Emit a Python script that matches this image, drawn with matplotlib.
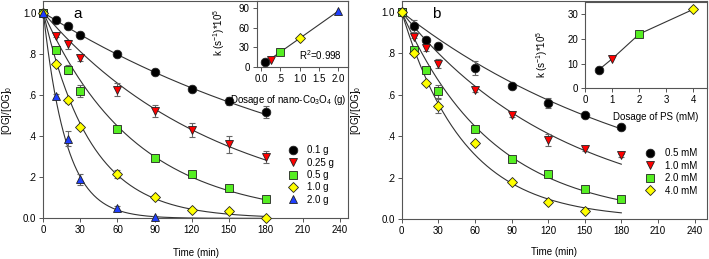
import numpy as np
import matplotlib
matplotlib.use("Agg")
import matplotlib.pyplot as plt
from matplotlib.ticker import FixedLocator, FixedFormatter

plt.rcParams['font.family'] = ['Liberation Sans', 'DejaVu Sans']
plt.rcParams['font.size'] = 7
plt.rcParams['mathtext.fontset'] = 'custom'
plt.rcParams['mathtext.rm'] = 'Liberation Sans'
plt.rcParams['mathtext.it'] = 'Liberation Sans'

# ---------------- data: panel a ----------------
time = [0, 10, 20, 30, 60, 90, 120, 150, 180]
labels_a = ["0.1 g", "0.25 g", "0.5 g", "1.0 g", "2.0 g"]
a_01 = [1.0, 0.966, 0.933, 0.891, 0.797, 0.712, 0.629, 0.569, 0.518]
a_025 = [1.0, 0.888, 0.845, 0.778, 0.626, 0.521, 0.429, 0.359, 0.299]
a_05 = [1.0, 0.817, 0.723, 0.618, 0.435, 0.291, 0.217, 0.149, 0.094]
a_10 = [1.0, 0.749, 0.573, 0.445, 0.217, 0.102, 0.042, 0.034, 0.002]
a_20 = [1.0, 0.595, 0.388, 0.189, 0.050, 0.008]
err_01 = [0.0, 0.010, 0.015, 0.015, 0.010, 0.010, 0.010, 0.020, 0.030]
err_025 = [0.0, 0.008, 0.020, 0.012, 0.030, 0.030, 0.035, 0.040, 0.030]
err_05 = [0.0, 0.008, 0.020, 0.030, 0.010, 0.008, 0.008, 0.008, 0.008]
err_10 = [0.0, 0.008, 0.010, 0.010, 0.020, 0.008, 0.008, 0.008, 0.005]
err_20 = [0.0, 0.008, 0.035, 0.025, 0.008, 0.005]
# first-order rate constants of the fitted curves (1/min)
fit_k_a = [0.0038, 0.00701, 0.01338, 0.026, 0.0536]
# inset a
dose_co = [0.1, 0.25, 0.5, 1.0, 2.0]
k_co = [7, 11, 22, 44, 86]

# ---------------- data: panel b ----------------
labels_b = ["0.5 mM", "1.0 mM", "2.0 mM", "4.0 mM"]
b_05 = [1.0, 0.932, 0.866, 0.837, 0.730, 0.641, 0.559, 0.504, 0.443]
b_10 = [1.0, 0.881, 0.824, 0.751, 0.624, 0.503, 0.383, 0.338, 0.307]
b_20 = [1.0, 0.818, 0.722, 0.617, 0.435, 0.292, 0.218, 0.147, 0.095]
b_40 = [1.0, 0.801, 0.656, 0.546, 0.367, 0.181, 0.082, 0.039]
errb_05 = [0.0, 0.030, 0.015, 0.010, 0.035, 0.010, 0.025, 0.008, 0.010]
errb_10 = [0.0, 0.008, 0.010, 0.020, 0.010, 0.008, 0.030, 0.008, 0.008]
errb_20 = [0.0, 0.010, 0.012, 0.030, 0.010, 0.008, 0.008, 0.008, 0.008]
errb_40 = [0.0, 0.008, 0.008, 0.035, 0.008, 0.008, 0.008, 0.008]
fit_k_b = [0.00462, 0.00738, 0.01338, 0.0195]
# inset b
dose_ps = [0.5, 1.0, 2.0, 4.0]
k_ps = [7.5, 12, 22, 32]

# ---------------- styles ----------------
colors = ['#000000', '#ff0000', '#55ee22', '#ffff00', '#1f3fff']
markers = ['o', 'v', 's', 'D', '^']
msizes = [6.2, 6.2, 5.6, 5.2, 6.2]
curve_c = '#333333'
spine_c = '#555555'

fig = plt.figure(figsize=(7.09, 2.59), dpi=100)

def style_axes(ax):
    for s in ax.spines.values():
        s.set_color(spine_c)
        s.set_linewidth(0.8)
    ax.tick_params(direction='out', length=3, width=0.7, color=spine_c,
                   labelsize=7, pad=2)

def main_panel(ax, series, errs, ks, labels, tag, xmax, ymax):
    tfit = np.linspace(0, 180, 300)
    handles = []
    for i, (y, e, k) in enumerate(zip(series, errs, ks)):
        t = time[:len(y)]
        ax.plot(tfit, np.exp(-k * tfit), color=curve_c, lw=0.8, zorder=2)
        ax.errorbar(t, y, yerr=e, fmt='none', ecolor='#666666',
                    elinewidth=0.8, capsize=2.5, capthick=0.8, zorder=3)
        h, = ax.plot(t, y, ls='none', marker=markers[i], ms=msizes[i],
                     mfc=colors[i], mec='#222222', mew=0.6, zorder=4,
                     label=labels[i], clip_on=False)
        handles.append(h)
    ax.set_xlim(0, xmax)
    ax.set_ylim(0, ymax)
    ax.xaxis.set_major_locator(FixedLocator([0, 30, 60, 90, 120, 150, 180, 210, 240]))
    ax.yaxis.set_major_locator(FixedLocator([0, 0.2, 0.4, 0.6, 0.8, 1.0]))
    ax.yaxis.set_major_formatter(FixedFormatter(['0.0', '.2', '.4', '.6', '.8', '1.0']))
    ax.set_xlabel('Time (min)', fontsize=7, labelpad=8)
    ax.set_ylabel('[OG]/[OG]$_0$', fontsize=7)
    ax.text(0.1, 0.975, tag, transform=ax.transAxes, fontsize=11,
            ha='left', va='top')
    style_axes(ax)
    return handles

# panel a
axa = fig.add_axes([0.0611, 0.157, 0.4297, 0.838])
ha = main_panel(axa, [a_01, a_025, a_05, a_10, a_20],
                [err_01, err_025, err_05, err_10, err_20],
                fit_k_a, labels_a, 'a', 246.5, 1.055)
axa.yaxis.set_label_coords(-0.097, 0.5)
axa.xaxis.set_label_coords(0.5, -0.135)
axa.legend(handles=ha, loc='lower left', bbox_to_anchor=(0.785, 0.04),
           frameon=False, fontsize=7, handletextpad=0.8, labelspacing=0.25,
           borderpad=0.0, handlelength=1.2)

# panel b
axb = fig.add_axes([0.5666, 0.1544, 0.4302, 0.8406])
hb = main_panel(axb, [b_05, b_10, b_20, b_40],
                [errb_05, errb_10, errb_20, errb_40],
                fit_k_b, labels_b, 'b', 250, 1.052)
axb.yaxis.set_label_coords(-0.128, 0.5)
axb.xaxis.set_label_coords(0.5, -0.13)
axb.legend(handles=hb, loc='lower left', bbox_to_anchor=(0.78, 0.085),
           frameon=False, fontsize=7, handletextpad=0.9, labelspacing=0.25,
           borderpad=0.0, handlelength=1.2)

# inset a
ia = fig.add_axes([0.362, 0.7425, 0.1288, 0.2525])
coef = np.polyfit(dose_co, k_co, 1)
xx = np.array([dose_co[0], dose_co[-1]])
ia.plot(xx, np.polyval(coef, xx), color=curve_c, lw=0.8, zorder=2)
for i in range(len(dose_co)):
    ia.plot(dose_co[i], k_co[i], ls='none', marker=markers[i], ms=msizes[i],
            mfc=colors[i], mec='#222222', mew=0.6, zorder=4, clip_on=False)
ia.set_xlim(-0.11, 2.25)
ia.set_ylim(0, 101)
ia.xaxis.set_major_locator(FixedLocator([0, 0.5, 1.0, 1.5, 2.0]))
ia.xaxis.set_major_formatter(FixedFormatter(['0.0', '.5', '1.0', '1.5', '2.0']))
ia.yaxis.set_major_locator(FixedLocator([0, 30, 60, 90]))
ia.text(0.98, 18, 'R$^2$=0.998', fontsize=7, ha='left', va='center')
ia.set_xlabel('Dosage of nano-Co$_3$O$_4$ (g)', fontsize=7)
ia.xaxis.set_label_coords(0.35, -0.40)
ia.set_ylabel('k (s$^{-1}$)*10$^5$', fontsize=7)
ia.yaxis.set_label_coords(-0.33, 0.52)
style_axes(ia)

# inset b
ib = fig.add_axes([0.8255, 0.659, 0.1713, 0.333])
ib.plot(dose_ps, k_ps, color=curve_c, lw=0.8, zorder=2)
for i in range(len(dose_ps)):
    ib.plot(dose_ps[i], k_ps[i], ls='none', marker=markers[i], ms=msizes[i],
            mfc=colors[i], mec='#222222', mew=0.6, zorder=4, clip_on=False)
ib.set_xlim(0, 4.49)
ib.set_ylim(0, 34.9)
ib.xaxis.set_major_locator(FixedLocator([0, 1, 2, 3, 4]))
ib.yaxis.set_major_locator(FixedLocator([0, 10, 20, 30]))
ib.set_xlabel('Dosage of PS (mM)', fontsize=7)
ib.xaxis.set_label_coords(0.58, -0.28)
ib.set_ylabel('k (s$^{-1}$)*10$^5$', fontsize=7)
ib.yaxis.set_label_coords(-0.29, 0.39)
style_axes(ib)

fig.savefig('out.png', dpi=100)
